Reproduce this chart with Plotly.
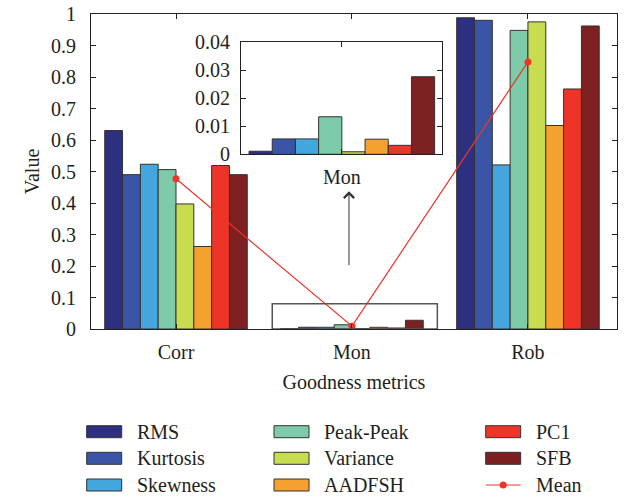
import plotly.graph_objects as go

categories = ["Corr", "Mon", "Rob"]
metrics = ["RMS", "Kurtosis", "Skewness", "Peak-Peak", "Variance", "AADFSH", "PC1", "SFB"]
colors = ["#2D2F80", "#3A55A5", "#43A6DC", "#7DCBAA", "#C9DB4F", "#F5A12F", "#EE3427", "#7D2022"]

corr_vals = [0.630, 0.490, 0.523, 0.506, 0.397, 0.262, 0.519, 0.490]
mon_vals = [0.0011, 0.0055, 0.0055, 0.0134, 0.0009, 0.0054, 0.0032, 0.0277]
rob_vals = [0.988, 0.980, 0.521, 0.948, 0.975, 0.646, 0.762, 0.962]
mean_vals = [0.477, 0.009, 0.848]

main_yticks = [0, 0.1, 0.2, 0.3, 0.4, 0.5, 0.6, 0.7, 0.8, 0.9, 1]
inset_yticks = [0, 0.01, 0.02, 0.03, 0.04]
inset_yticklabels = ["0", "0.01", "0.02", "0.03", "0.04"]

FONT = "Liberation Serif"
TXT = "#231F20"
FS = 20

fig = go.Figure()

for i, m in enumerate(metrics):
    fig.add_trace(go.Bar(
        x=categories, y=[corr_vals[i], mon_vals[i], rob_vals[i]], name=m,
        marker=dict(color=colors[i], line=dict(color="#333333", width=1)),
        showlegend=False, xaxis="x", yaxis="y"))

fig.add_trace(go.Scatter(
    x=categories, y=mean_vals, name="Mean", mode="lines+markers",
    line=dict(color="#EE3427", width=1.2), marker=dict(color="#EE3427", size=7),
    showlegend=False, xaxis="x", yaxis="y"))

# inset
for i, m in enumerate(metrics):
    fig.add_trace(go.Bar(
        x=[0], y=[mon_vals[i]], name=m,
        marker=dict(color=colors[i], line=dict(color="#333333", width=1)),
        showlegend=False, xaxis="x2", yaxis="y2"))

W, H = 633, 497
L, R, T, B = 91, 16, 14, 168
pw, ph = W - L - R, H - T - B


def px(x):
    return (x - L) / pw


def py(y):
    return (H - B - y) / ph


axis_common = dict(showline=True, linecolor="#222222", linewidth=1, mirror="ticks",
                   ticks="inside", ticklen=5, tickcolor="#222222", showgrid=False,
                   zeroline=False, automargin=False,
                   tickfont=dict(family=FONT, size=FS, color=TXT))

fig.update_layout(
    width=W, height=H,
    margin=dict(l=L, r=R, t=T, b=B, autoexpand=False),
    paper_bgcolor="white", plot_bgcolor="white",
    showlegend=False,
    barmode="group", bargap=0.19, bargroupgap=0,
    font=dict(family=FONT, size=FS, color=TXT),
    xaxis=dict(**axis_common, range=[-0.483, 2.506], ticklabelstandoff=5,
               title=dict(text="Goodness metrics", standoff=12,
                          font=dict(family=FONT, size=FS, color=TXT))),
    yaxis=dict(**axis_common, range=[0, 1], tickvals=main_yticks,
               ticklabelstandoff=10,
               title=dict(text="Value", standoff=6,
                          font=dict(family=FONT, size=FS, color=TXT))),
    xaxis2=dict(**axis_common, domain=[px(241), px(442)], anchor="y2",
                range=[-0.44, 0.437], tickvals=[0], ticktext=["Mon"],
                ticklabelstandoff=5),
    yaxis2=dict(**axis_common, domain=[py(154.3), py(42.3)], anchor="x2",
                range=[0, 0.04], tickvals=inset_yticks, ticktext=inset_yticklabels,
                ticklabelstandoff=6),
)

# zoom box around Mon bars
fig.add_shape(type="rect", xref="x", yref="y", x0=0.547, x1=1.485, y0=0, y1=0.08,
              line=dict(color="#555555", width=1.5), fillcolor="rgba(0,0,0,0)")

# arrow to inset
fig.add_annotation(x=0.983, y=0.437, ax=0.983, ay=0.198, xref="x", yref="y",
                   axref="x", ayref="y", text="", showarrow=True,
                   arrowhead=4, arrowsize=2, arrowwidth=1, arrowcolor="#333333")

# custom legend
legend_cols = [[0, 1, 2], [3, 4, 5], [6, 7, None]]
col_x = [86.7, 274, 485.7]
row_y = [431.7, 458.3, 485]
sw_w, sw_h = 35, 12
for c, items in enumerate(legend_cols):
    for r, idx in enumerate(items):
        x0 = col_x[c]
        yc = row_y[r]
        if idx is not None:
            fig.add_shape(type="rect", xref="paper", yref="paper",
                          x0=px(x0), x1=px(x0 + sw_w), y0=py(yc + sw_h / 2), y1=py(yc - sw_h / 2),
                          line=dict(color="#333333", width=1), fillcolor=colors[idx])
            label = metrics[idx]
        else:
            fig.add_shape(type="line", xref="paper", yref="paper",
                          x0=px(x0), x1=px(x0 + sw_w), y0=py(yc), y1=py(yc),
                          line=dict(color="#EE3427", width=1.2))
            fig.add_shape(type="circle", xref="paper", yref="paper",
                          x0=px(x0 + sw_w / 2 - 3.5), x1=px(x0 + sw_w / 2 + 3.5),
                          y0=py(yc + 3.5), y1=py(yc - 3.5),
                          line=dict(color="#EE3427", width=0), fillcolor="#EE3427")
            label = "Mean"
        fig.add_annotation(x=px(x0 + 48), y=py(yc), xref="paper", yref="paper",
                           text=label, showarrow=False, xanchor="left", yanchor="middle",
                           font=dict(family=FONT, size=FS, color=TXT))

fig.write_html("out.html", config={"displayModeBar": False},
               post_script="document.body.style.margin='0';document.body.style.overflow='hidden';")
